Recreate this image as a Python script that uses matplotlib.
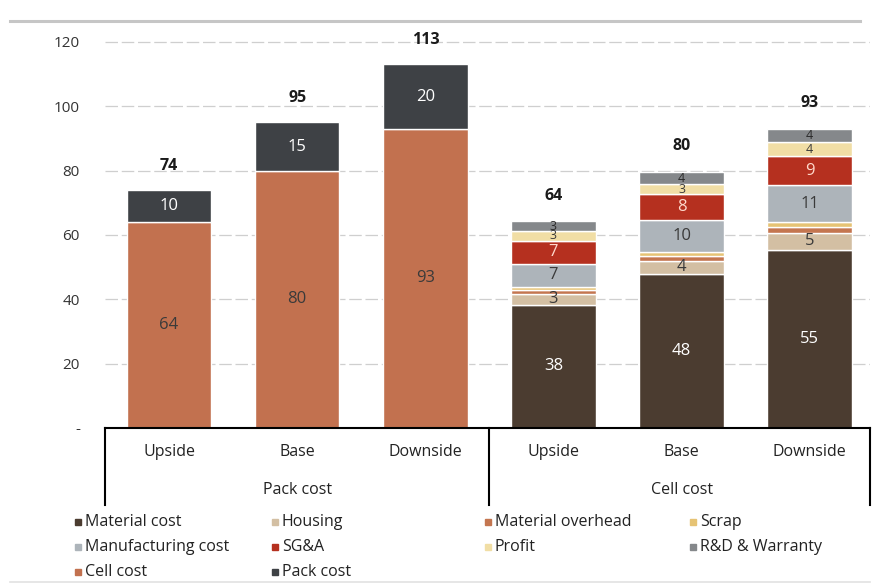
import matplotlib
matplotlib.use("Agg")
import matplotlib.pyplot as plt
from matplotlib.patches import Rectangle
from matplotlib.lines import Line2D
import numpy as np

plt.rcParams['font.family'] = ['Open Sans', 'DejaVu Sans']

# Categories
scenarios = ["Upside", "Base", "Downside", "Upside", "Base", "Downside"]
groups = ["Pack cost", "Cell cost"]

# Pack cost build-up (first three bars)
pack_cell_cost = [64, 80, 93]
pack_pack_cost = [10, 15, 20]

# Cell cost build-up (last three bars)
material_cost = [38.3, 48.0, 55.4]
housing = [3.4, 4.0, 5.2]
material_overhead = [1.2, 1.5, 2.0]
scrap = [1.0, 1.2, 1.5]
manufacturing_cost = [7.2, 10.0, 11.3]
sga = [7.0, 8.0, 9.2]
profit = [3.2, 3.0, 4.2]
rd_warranty = [2.9, 4.0, 4.1]

colors = {
    "Material cost": "#4b3c30",
    "Housing": "#d3bfa3",
    "Material overhead": "#c47650",
    "Scrap": "#e6c374",
    "Manufacturing cost": "#adb4ba",
    "SG&A": "#b5301f",
    "Profit": "#f1dea5",
    "R&D & Warranty": "#85888b",
    "Cell cost": "#c2714f",
    "Pack cost": "#3e4145",
}

fig = plt.figure(figsize=(8.79, 5.88), dpi=100)
px_per_unit = 3.217
ymax = 125
ax = fig.add_axes([105 / 879, 1 - 428 / 588, 765 / 879, ymax * px_per_unit / 588])

x_pack = np.array([0, 1, 2])
x_cell = np.array([3, 4, 5])
width = 0.66
edge = dict(edgecolor="white", linewidth=1.0)

# Pack cost bars
ax.bar(x_pack, pack_cell_cost, width, color=colors["Cell cost"], **edge, zorder=3)
ax.bar(x_pack, pack_pack_cost, width, bottom=pack_cell_cost,
       color=colors["Pack cost"], **edge, zorder=3)

for xi, c, p in zip(x_pack, pack_cell_cost, pack_pack_cost):
    ax.text(xi, c / 2, f"{c:.0f}", ha="center", va="center", fontsize=12,
            color="#3a3a3a", zorder=4)
    ax.text(xi, c + p / 2, f"{p:.0f}", ha="center", va="center", fontsize=12,
            color="white", zorder=4)
    ax.text(xi, c + p + 7.5, f"{c + p:.0f}", ha="center", va="center",
            fontsize=11.5, fontweight="bold", color="#1a1a1a", zorder=4)

# Cell cost bars (label colour, label size); None means no label
cell_series = [
    ("Material cost", material_cost, "white", 12),
    ("Housing", housing, "#3a3a3a", 12),
    ("Material overhead", material_overhead, None, 0),
    ("Scrap", scrap, None, 0),
    ("Manufacturing cost", manufacturing_cost, "#3a3a3a", 12),
    ("SG&A", sga, "#ffd9cc", 12),
    ("Profit", profit, "#3a3a3a", 9),
    ("R&D & Warranty", rd_warranty, "#2a2a2a", 9),
]
bottom = np.zeros(3)
for name, vals, lab_color, fs in cell_series:
    vals = np.array(vals)
    ax.bar(x_cell, vals, width, bottom=bottom, color=colors[name], **edge, zorder=3)
    if lab_color is not None:
        for xi, b, v in zip(x_cell, bottom, vals):
            ax.text(xi, b + v / 2, f"{v:.0f}", ha="center", va="center",
                    fontsize=fs, color=lab_color, zorder=4)
    bottom = bottom + vals

for xi, tot in zip(x_cell, bottom):
    ax.text(xi, tot + 8, f"{tot:.0f}", ha="center", va="center",
            fontsize=11.5, fontweight="bold", color="#1a1a1a", zorder=4)

# Axes styling
ax.set_xlim(-0.5, 5.47)
ax.set_ylim(0, ymax)
ax.set_yticks([0, 20, 40, 60, 80, 100, 120])
ax.set_yticklabels(["-", "20", "40", "60", "80", "100", "120"])
ax.tick_params(axis="y", length=0, pad=18, labelsize=11, labelcolor="#333333")
ax.set_xticks([])
for s in ax.spines.values():
    s.set_visible(False)
ax.yaxis.grid(True, color="#cfcfcf", linestyle=(0, (10, 3)), linewidth=0.9, zorder=0)
ax.set_axisbelow(True)

# Grouped category axis
trans = ax.get_xaxis_transform()
y_bot = -(505 - 428) / (ymax * px_per_unit)
ax.plot([-0.5, 5.47], [0, 0], color="black", lw=1.5, transform=trans, clip_on=False, zorder=5)
for xv in (-0.5, 2.5, 5.47):
    ax.plot([xv, xv], [0, y_bot], color="black", lw=1.5, transform=trans, clip_on=False)
lab_y = -(452 - 428) / (ymax * px_per_unit)
grp_y = -(490 - 428) / (ymax * px_per_unit)
for xi, s in enumerate(scenarios):
    ax.text(xi, lab_y, s, ha="center", va="center", fontsize=11.5,
            color="#222222", transform=trans)
for xc, g in zip([1, 4], groups):
    ax.text(xc, grp_y, g, ha="center", va="center", fontsize=11.5,
            color="#222222", transform=trans)

# Frame lines above the plot and below the legend
fig.add_artist(Line2D([10 / 879, 860 / 879], [1 - 21 / 588] * 2, color="#c6c6c6", lw=2.2))
fig.add_artist(Line2D([10 / 879, 870 / 879], [1 - 582 / 588] * 2, color="#e2e2e2", lw=1.2))

# Legend
legend_rows = [
    [("Material cost", 75), ("Housing", 272), ("Material overhead", 485), ("Scrap", 690)],
    [("Manufacturing cost", 75), ("SG&A", 272), ("Profit", 485), ("R&D & Warranty", 690)],
    [("Cell cost", 75), ("Pack cost", 272)],
]
row_y = [522, 547, 572]
sq = 6
for row, yy in zip(legend_rows, row_y):
    for name, xx in row:
        fig.add_artist(Rectangle((xx / 879, 1 - (yy + sq / 2) / 588), sq / 879, sq / 588,
                                 color=colors[name], transform=fig.transFigure))
        fig.text((xx + 10) / 879, 1 - yy / 588, name, ha="left", va="center",
                 fontsize=11.5, color="#222222")

fig.savefig("out.png", dpi=100)
